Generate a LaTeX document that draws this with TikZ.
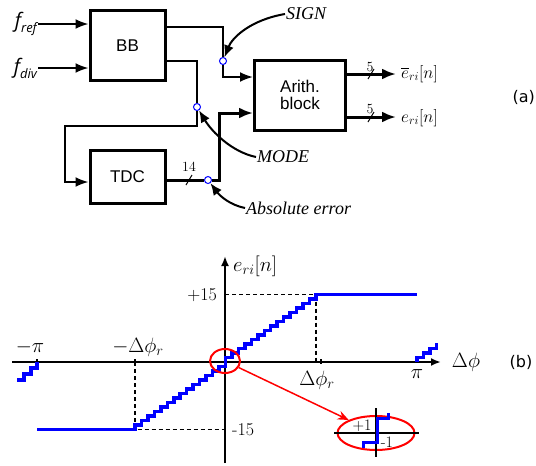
\documentclass[tikz,border=0pt]{standalone}
\usepackage{fontspec}
\usepackage{amsmath}
\usepackage{xcolor}
\usepackage{tikz}
\usetikzlibrary{shapes.geometric, arrows.meta, positioning}
\newfontfamily\blockfont{Liberation Sans}
\newfontfamily\notefont{Liberation Serif}
\newfontfamily\inputfont{Open Sans}
\newfontfamily\tagfont{DejaVu Sans}
\definecolor{tapblue}{RGB}{0,0,255}
\definecolor{stairblue}{RGB}{0,0,255}
\definecolor{zoomred}{RGB}{255,0,0}
\tikzset{
    block/.style={rectangle, draw, line width=3pt, minimum width=75pt, minimum height=70pt, text centered, align=center, font=\blockfont\fontsize{17}{17}\selectfont},
    wire/.style={line width=2pt},
    bus/.style={line width=3pt},
    arrow/.style={-{Latex[length=13pt,width=10pt]}, line width=2pt},
    busarrow/.style={-{Latex[length=14pt,width=11pt]}, line width=3pt},
    tap/.style={circle, draw=tapblue, fill=white, line width=1pt, inner sep=0pt, minimum size=7pt},
    slash/.style={line width=1pt},
    note/.style={font=\notefont\itshape\fontsize{18}{20}\selectfont, inner sep=1pt},
    pointer/.style={-{Latex[length=12pt,width=10pt]}, line width=2pt},
    inlabel/.style={font=\inputfont\itshape\fontsize{20}{22}\selectfont, inner sep=1pt},
    outlabel/.style={font=\fontsize{17}{20}\selectfont, inner sep=1pt},
    buswidth/.style={font=\fontsize{14}{14}\selectfont, inner sep=0pt},
    tag/.style={font=\tagfont\fontsize{16}{18}\selectfont, inner sep=0pt},
    plotaxis/.style={-{Latex[length=10pt,width=8pt]}, line width=2.5pt},
    guide/.style={line width=1.5pt, dash pattern=on 4pt off 3pt},
    stair/.style={line width=3.5pt, color=stairblue},
    lens/.style={ellipse, draw=zoomred, line width=2pt, inner sep=0pt},
    zoomarrow/.style={-{Stealth[length=11pt,width=9pt]}, line width=1.5pt, color=zoomred},
    mathlabel/.style={font=\fontsize{20}{24}\selectfont, inner sep=1pt},
    levellabel/.style={font=\fontsize{18}{20}\selectfont, inner sep=1pt}
}

\begin{document}
\begin{tikzpicture}[
    x=1pt, y=-1pt,
    every node/.style={align=center}
]
    \useasboundingbox (0,0) rectangle (536,466);

    % (a) Block diagram
    \node[block] (bb) at (127.5,45.5) {BB};
    \node[block, minimum height=53pt] (tdc) at (127.5,176.5) {TDC};
    \node[block, minimum width=91pt] (arith) at (300,95) {Arith.\\block};

    \node[inlabel, anchor=east] (fref) at (38,24) {f\raisebox{-5pt}{\fontsize{13}{13}\selectfont ref}};
    \node[inlabel, anchor=east] (fdiv) at (38,68) {f\raisebox{-5pt}{\fontsize{13}{13}\selectfont div}};
    \draw[arrow] (fref) -- (fref -| bb.west);
    \draw[arrow] (fdiv) -- (fdiv -| bb.west);

    % Taps
    \node[tap] (sign) at (223,61) {};
    \node[tap] (mode) at (197,107) {};
    \node[tap] (abs) at (208,180) {};

    % Wires
    \draw[wire] (bb.east |- 0,27) -| (sign);
    \draw[arrow] (sign) |- (arith.west |- 0,77);
    \coordinate (loop) at (65,126);
    \draw[wire] (bb.east |- 0,61) -| (mode);
    \draw[arrow] (mode) |- (loop) |- (tdc.west |- 0,182);
    \coordinate (riser) at (219,113);
    \draw[bus] (tdc.east |- 0,180) -- (abs);
    \draw[busarrow] (abs) -| (riser) -- (arith.west |- riser);
    \draw[slash] (186,185) -- (192,175);
    \node[buswidth] (w14) at (189,167) {14};

    % Outputs
    \node[outlabel, anchor=west] (ebar) at (400,74) {$\overline{e}_{ri}[n]$};
    \node[outlabel, anchor=west] (eri) at (400,118) {$e_{ri}[n]$};
    \draw[busarrow, shorten >=4pt] (arith.east |- 0,74) -- (ebar.west |- 0,74);
    \draw[busarrow, shorten >=4pt] (arith.east |- 0,117) -- (eri.west |- 0,117);
    \draw[slash] (368,79) -- (374,69);
    \draw[slash] (368,122) -- (374,112);
    \node[buswidth] (w5a) at (370,67) {5};
    \node[buswidth] (w5b) at (370,109) {5};

    % Annotations
    \node[note, anchor=west] (signlbl) at (285,14) {SIGN};
    \draw[pointer] (signlbl.west) .. controls (250,20) and (232,38) .. (sign);
    \node[note, anchor=west] (modelbl) at (256,157) {MODE};
    \draw[pointer] (modelbl.west) .. controls (232,152) and (212,132) .. (mode);
    \node[note, anchor=west] (abslbl) at (245,208) {Absolute error};
    \draw[pointer] (abslbl.west) .. controls (230,205) and (220,196) .. (abs);

    \node[tag, anchor=east] (taga) at (535,97) {(a)};

    % (b) Transfer characteristic
    \draw[guide] (135,362) -- (135,429.5) -- (225,429.5);
    \draw[guide] (225,294.5) -- (316,294.5) -- (316,362);
    \draw[plotaxis] (12,362) -- (441,362);
    \draw[plotaxis] (225,463) -- (225,256);
    \foreach \xt in {37,135,321}
        \draw[line width=2pt] (\xt,359) -- (\xt,364);

    \draw[stair] (37,429.5)
        \foreach \j in {0,...,13} { -| ({135+\j*6.464}, {362+(14-\j)*4.5}) }
        -| (225.5,357.5)
        \foreach \j in {15,...,28} { -| ({135+\j*6.464}, {362-(\j-13)*4.5}) }
        -- (417,294.5);
    \draw[stair] (17,380) -| (24,374) -| (31,368) -| (37,362);
    \draw[stair] (417,362) -- (417,357.5) -| (423.5,353) -| (430,348.5) -| (436.5,343);

    \node[mathlabel] (negpi) at (30,347) {$-\pi$};
    \node[mathlabel] (negdr) at (138,347) {$-\Delta\phi_r$};
    \node[mathlabel] (posdr) at (317,380) {$\Delta\phi_r$};
    \node[mathlabel] (pospi) at (417,374) {$\pi$};
    \node[mathlabel] (xlbl) at (466,362) {$\Delta\phi$};
    \node[mathlabel, anchor=west] (ylbl) at (232,266) {$e_{ri}[n]$};
    \node[levellabel, anchor=east] (lvlhi) at (218,295) {+15};
    \node[levellabel, anchor=west] (lvllo) at (231,430) {-15};
    \node[tag] (tagb) at (521,362) {(b)};

    % Zoom on the origin
    \node[lens, minimum width=30pt, minimum height=24pt] (spot) at (225,361) {};
    \node[lens, minimum width=77pt, minimum height=34pt] (lensbig) at (376,433) {};
    \draw[zoomarrow] (spot) -- (lensbig);
    \draw[line width=2pt] (334,433) -- (419,433);
    \draw[line width=2pt] (376,408) -- (376,457);
    \draw[stair, line width=3pt] (363,448) -- (363,442) -- (377,442) -- (377,418) -- (388,418) -- (388,413);
    \node[levellabel, font=\fontsize{16}{18}\selectfont] (plus1) at (362,426) {+1};
    \node[levellabel, font=\fontsize{16}{18}\selectfont] (minus1) at (387,442) {-1};
\end{tikzpicture}
\end{document}
